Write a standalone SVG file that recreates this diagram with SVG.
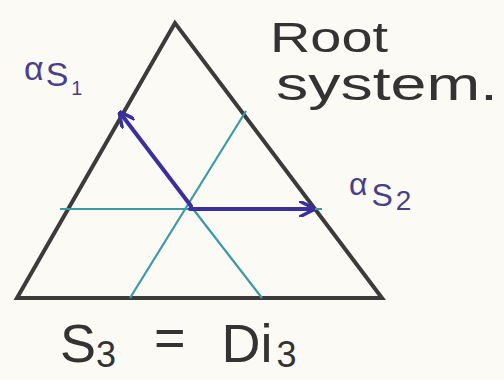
<svg xmlns="http://www.w3.org/2000/svg" width="504" height="380" viewBox="0 0 504 380">
<style>
.tri{fill:none;stroke:#3b3b3b;stroke-width:4;stroke-linejoin:miter}
.mirror{stroke:#3b9aa6;stroke-width:2.2;fill:none}
.root{stroke:#3a2f9c;stroke-width:4;fill:none;stroke-linecap:round}
.ink{font-family:"Liberation Sans","DejaVu Sans",sans-serif;fill:#333333}
.lbl{font-family:"Liberation Sans","DejaVu Sans",sans-serif;fill:#4a3f8c}
</style>
<defs>
<marker id="ah" viewBox="0 0 10 10" refX="8" refY="5" markerWidth="4" markerHeight="4" orient="auto">
<path d="M0,0 L10,5 L0,10" fill="none" stroke="#3a2f9c" stroke-width="2.2"/>
</marker>
</defs>
<rect width="504" height="380" fill="#fbfaf5"/>
<g id="triangle"><path class="tri" d="M175,23 L17,298 L382,298 Z"/></g>
<g id="connectors">
<line class="mirror" x1="60" y1="209" x2="322" y2="209"/>
<line class="mirror" x1="130" y1="298" x2="246" y2="111"/>
<line class="mirror" x1="262" y1="298" x2="190" y2="205"/>
<line class="root" x1="191" y1="206" x2="121" y2="114" marker-end="url(#ah)"/>
<line class="root" x1="190" y1="209" x2="312" y2="209" marker-end="url(#ah)"/>
</g>
<g id="label-alpha1"><text class="lbl" x="24" y="80" font-size="34">α<tspan dx="2" dy="6">S</tspan><tspan font-size="20" dx="3" dy="9">1</tspan></text></g>
<g id="label-alpha2"><text class="lbl" x="349" y="195" font-size="32">α<tspan font-size="32" dx="4" dy="11">S</tspan><tspan font-size="28" dx="3" dy="4">2</tspan></text></g>
<g id="title"><text class="ink" x="270" y="52" font-size="42" textLength="118" lengthAdjust="spacingAndGlyphs">Root</text>
<text class="ink" x="276" y="100" font-size="46" textLength="222" lengthAdjust="spacingAndGlyphs">system.</text></g>
<g id="caption"><text class="ink" x="60" y="362" font-size="54">S<tspan font-size="36" dy="5">3</tspan><tspan dx="38" dy="-11">=</tspan><tspan dx="36" dy="6">Di</tspan><tspan font-size="36" dx="4" dy="5">3</tspan></text></g>
</svg>
